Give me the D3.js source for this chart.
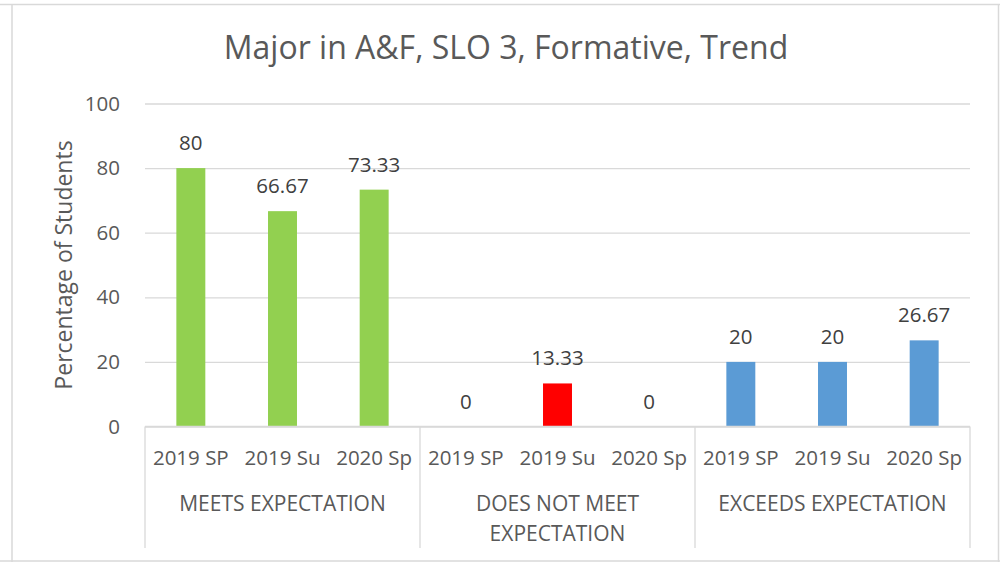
<!DOCTYPE html>
<html><head><meta charset="utf-8">
<script src="https://cdn.jsdelivr.net/npm/d3@7"></script>
<style>body{margin:0;background:#fff}svg{display:block}</style>
</head><body>
<script>
const title = "Major in A&F, SLO 3, Formative, Trend";
const yTitle = "Percentage of Students";
const groups = ["MEETS EXPECTATION", "DOES NOT MEET EXPECTATION", "EXCEEDS EXPECTATION"];
const groupLines = [["MEETS EXPECTATION"], ["DOES NOT MEET", "EXPECTATION"], ["EXCEEDS EXPECTATION"]];
const terms = ["2019 SP", "2019 Su", "2020 Sp"];
const meets = [80, 66.67, 73.33];
const doesNotMeet = [0, 13.33, 0];
const exceeds = [20, 20, 26.67];
const groupColors = ["#92d050", "#ff0000", "#5b9bd5"];
const yTicks = [0, 20, 40, 60, 80, 100];
const labels = ["80", "66.67", "73.33", "0", "13.33", "0", "20", "20", "26.67"];

(function () {
const series = [meets, doesNotMeet, exceeds];
const data = [];
groups.forEach((g, gi) => terms.forEach((t, ti) => data.push({g, gi, t, key: gi + "|" + ti, v: series[gi][ti], label: labels[gi * 3 + ti]})));

const W = 1000, H = 562;
const pL = 145, pR = 970, pT = 103.5, pB = 426.5;
const font = "'Open Sans', sans-serif";
const fs = "20.5px";

const svg = d3.select("body").append("svg").attr("width", W).attr("height", H);

// frame
const frame = svg.append("g").attr("stroke", "#d9d9d9").attr("stroke-width", 1.5);
frame.append("line").attr("x1", 0).attr("x2", W).attr("y1", 4.5).attr("y2", 4.5);
frame.append("line").attr("x1", 0).attr("x2", W).attr("y1", 561).attr("y2", 561);
frame.append("line").attr("x1", 12).attr("x2", 12).attr("y1", 4).attr("y2", H);
frame.append("line").attr("x1", 998.5).attr("x2", 998.5).attr("y1", 4).attr("y2", H);

const x = d3.scaleBand().domain(data.map(d => d.key)).range([pL, pR]).padding(0);
const y = d3.scaleLinear().domain([0, 100]).range([pB, pT]);
const barW = x.bandwidth() * 0.316;

// gridlines + y axis
const yAxis = svg.append("g").attr("transform", `translate(${pL},0)`)
  .call(d3.axisLeft(y).tickValues(yTicks).tickSize(-(pR - pL)).tickPadding(25));
yAxis.select(".domain").remove();
yAxis.selectAll(".tick line").attr("stroke", "#d9d9d9").attr("stroke-width", 1.3);
yAxis.selectAll(".tick text").attr("fill", "#595959").style("font-family", font).style("font-size", fs);

// bars
svg.append("g").selectAll("rect").data(data).join("rect")
  .attr("x", d => x(d.key) + (x.bandwidth() - barW) / 2)
  .attr("width", barW)
  .attr("y", d => y(d.v))
  .attr("height", d => y(0) - y(d.v))
  .attr("fill", d => groupColors[d.gi]);

// data labels
svg.append("g").selectAll("text").data(data).join("text")
  .attr("x", d => x(d.key) + x.bandwidth() / 2)
  .attr("y", d => y(d.v) - 18)
  .attr("text-anchor", "middle")
  .attr("fill", "#404040")
  .style("font-family", font).style("font-size", fs)
  .text(d => d.label);

// category axis
const cat = svg.append("g").attr("stroke", "#d9d9d9").attr("stroke-width", 1.3);
cat.append("line").attr("x1", pL).attr("x2", pR).attr("y1", pB).attr("y2", pB);
const seps = [0, 3, 6].map(i => x(data[i].key)).concat([pR]);
cat.selectAll("line.sep").data(seps).join("line").attr("class", "sep")
  .attr("x1", d => d).attr("x2", d => d).attr("y1", pB).attr("y2", 548);

svg.append("g").selectAll("text").data(data).join("text")
  .attr("x", d => x(d.key) + x.bandwidth() / 2)
  .attr("y", 465)
  .attr("text-anchor", "middle")
  .attr("fill", "#595959")
  .style("font-family", font).style("font-size", fs)
  .text(d => d.t);

groups.forEach((g, gi) => {
  const cx = (x(gi + "|0") + x(gi + "|2") + x.bandwidth()) / 2;
  const t = svg.append("text").attr("x", cx).attr("y", 511).attr("text-anchor", "middle")
    .attr("fill", "#595959").style("font-family", font).style("font-size", "21px");
  groupLines[gi].forEach((ln, li) => t.append("tspan").attr("x", cx).attr("dy", li ? 29.5 : 0).text(ln));
});

// y title
svg.append("text").attr("transform", `translate(72,265) rotate(-90)`)
  .attr("text-anchor", "middle").attr("fill", "#595959")
  .style("font-family", font).style("font-size", "23px").text(yTitle);

// title
svg.append("text").attr("x", 506).attr("y", 59).attr("text-anchor", "middle")
  .attr("fill", "#595959").style("font-family", font).style("font-size", "32px").text(title);
})();
</script>
</body></html>
